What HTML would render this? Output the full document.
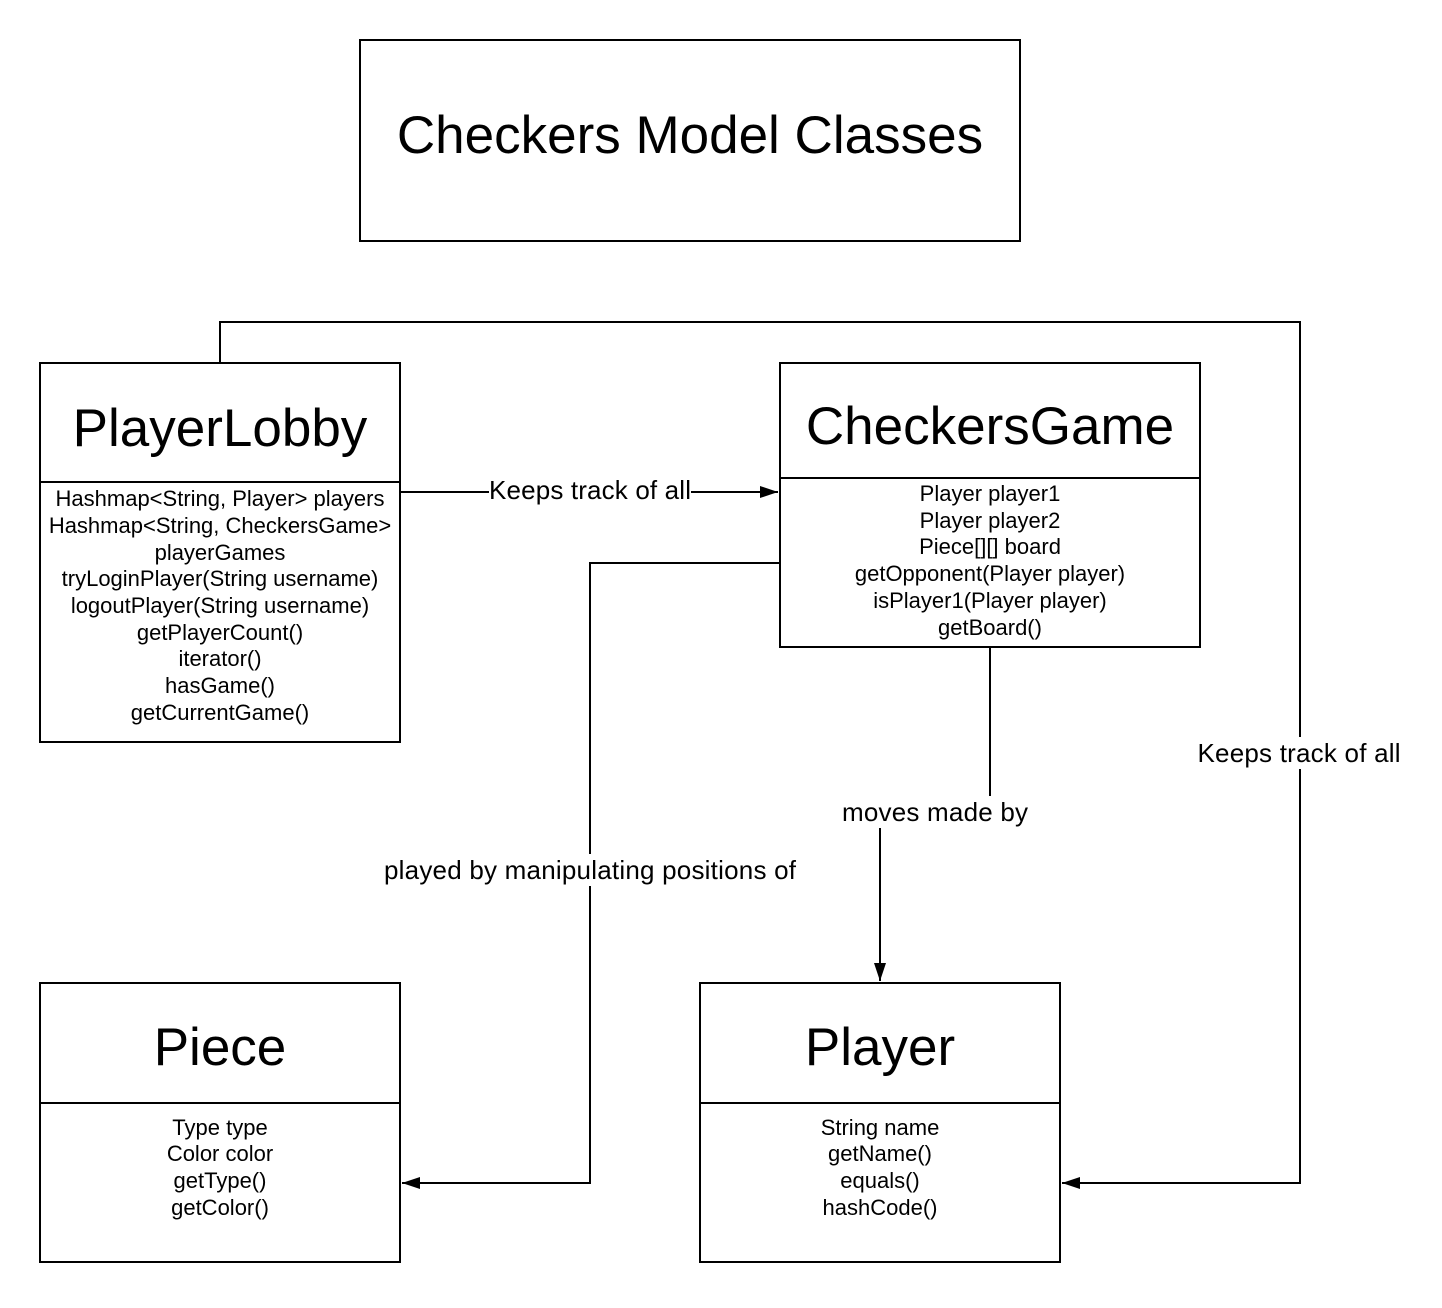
<!DOCTYPE html>
<html><head><meta charset="utf-8"><style>
body{margin:0;background:#fff}
svg text{font-family:"Liberation Sans",sans-serif;fill:#000}
</style></head><body>
<svg width="1442" height="1303" viewBox="0 0 1442 1303" xmlns="http://www.w3.org/2000/svg">
<defs><marker id="a" markerWidth="18" markerHeight="12" refX="18" refY="6" orient="auto" markerUnits="userSpaceOnUse"><path d="M0,0 L18,6 L0,12 Z" fill="#000"/></marker></defs>
<g fill="none" stroke="#000" stroke-width="2">
<rect x="360" y="40" width="660" height="201"/>
<rect x="40" y="363" width="360" height="379"/><line x1="40" y1="482" x2="400" y2="482"/>
<rect x="780" y="363" width="420" height="284"/><line x1="780" y1="478" x2="1200" y2="478"/>
<rect x="40" y="983" width="360" height="279"/><line x1="40" y1="1103" x2="400" y2="1103"/>
<rect x="700" y="983" width="360" height="279"/><line x1="700" y1="1103" x2="1060" y2="1103"/>
<path d="M400,492 H778" marker-end="url(#a)"/>
<path d="M220,363 V322 H1300 V1183 H1062" marker-end="url(#a)"/>
<path d="M780,563 H590 V1183 H402" marker-end="url(#a)"/>
<path d="M990,647 V812 H880 V981" marker-end="url(#a)"/>
</g>
<g fill="#fff">
<rect x="489" y="476" width="202" height="30"/>
<rect x="1197" y="737" width="205" height="32"/>
<rect x="383" y="854" width="414" height="32"/>
<rect x="840" y="796" width="190" height="32"/>
</g>
<g text-anchor="middle">
<text x="690" y="153" font-size="53">Checkers Model Classes</text>
<text x="220" y="446" font-size="53">PlayerLobby</text>
<text x="990" y="444" font-size="53">CheckersGame</text>
<text x="220" y="1065" font-size="53">Piece</text>
<text x="880" y="1065" font-size="53">Player</text>
<g font-size="26">
<text x="590" y="499" textLength="202">Keeps track of all</text>
<text x="1299" y="762" textLength="203">Keeps track of all</text>
<text x="590" y="879" textLength="412">played by manipulating positions of</text>
<text x="935" y="821" textLength="186">moves made by</text>
</g>
<g font-size="22">
<text x="220" y="506">Hashmap&lt;String, Player&gt; players</text>
<text x="220" y="533">Hashmap&lt;String, CheckersGame&gt;</text>
<text x="220" y="560">playerGames</text>
<text x="220" y="586">tryLoginPlayer(String username)</text>
<text x="220" y="613">logoutPlayer(String username)</text>
<text x="220" y="640">getPlayerCount()</text>
<text x="220" y="666">iterator()</text>
<text x="220" y="693">hasGame()</text>
<text x="220" y="720">getCurrentGame()</text>
<text x="990" y="501">Player player1</text>
<text x="990" y="528">Player player2</text>
<text x="990" y="554">Piece[][] board</text>
<text x="990" y="581">getOpponent(Player player)</text>
<text x="990" y="608">isPlayer1(Player player)</text>
<text x="990" y="635">getBoard()</text>
<text x="220" y="1135">Type type</text>
<text x="220" y="1161">Color color</text>
<text x="220" y="1188">getType()</text>
<text x="220" y="1215">getColor()</text>
<text x="880" y="1135">String name</text>
<text x="880" y="1161">getName()</text>
<text x="880" y="1188">equals()</text>
<text x="880" y="1215">hashCode()</text>
</g>
</g>
</svg>
</body></html>
